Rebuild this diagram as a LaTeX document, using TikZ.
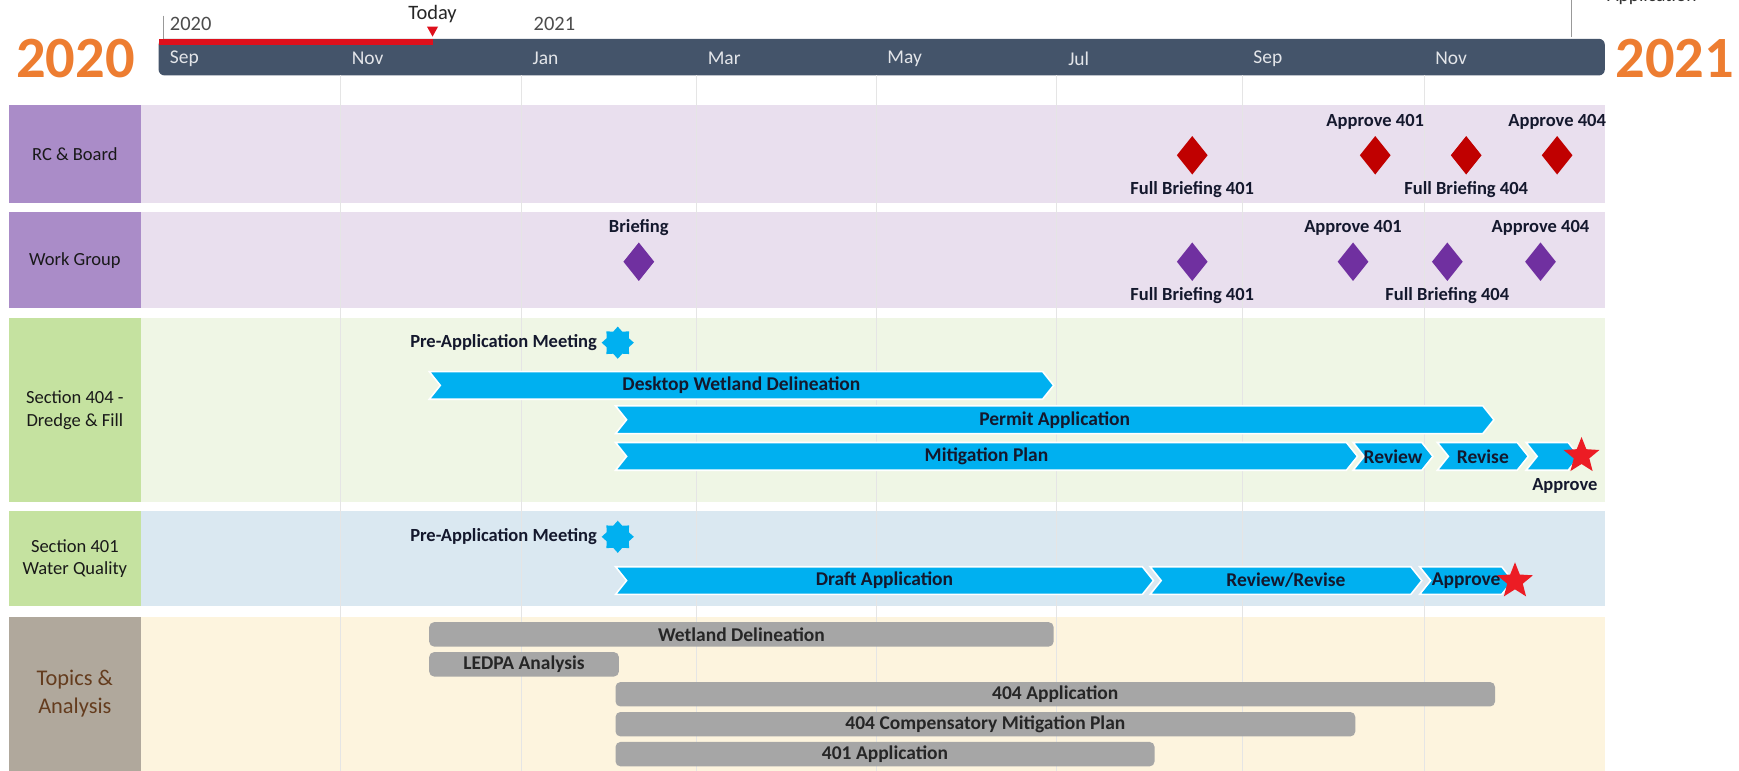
\documentclass[tikz,border=0pt]{standalone}
\usepackage{fontspec}
\setmainfont{Carlito}
\usetikzlibrary{positioning,shapes.geometric}

\definecolor{barslate}{RGB}{68,84,106}
\definecolor{yearorange}{RGB}{237,125,49}
\definecolor{todayred}{RGB}{222,16,28}
\definecolor{headpurple}{RGB}{170,140,200}
\definecolor{bandpurple}{RGB}{233,223,238}
\definecolor{headgreen}{RGB}{197,226,160}
\definecolor{bandgreen}{RGB}{239,246,229}
\definecolor{bandblue}{RGB}{218,232,241}
\definecolor{headtaupe}{RGB}{176,168,156}
\definecolor{bandcream}{RGB}{253,244,222}
\definecolor{topicbrown}{RGB}{100,60,30}
\definecolor{chevcyan}{RGB}{0,176,240}
\definecolor{taskgray}{RGB}{166,166,166}
\definecolor{rcred}{RGB}{192,0,0}
\definecolor{wgpurple}{RGB}{112,48,160}
\definecolor{starred}{RGB}{236,28,36}
\definecolor{labelink}{RGB}{20,24,45}

\tikzset{
    rowhead/.style={align=center, font=\fontsize{9.5}{11.5}\selectfont, text=black!90,
        minimum width=2.38cm, inner sep=0pt},
    monthlabel/.style={anchor=west, font=\fontsize{10}{12}\selectfont, text=white!85!barslate},
    yearbig/.style={font=\bfseries\fontsize{30}{30}\selectfont, text=yearorange},
    yearsmall/.style={anchor=west, font=\fontsize{10.5}{12}\selectfont, text=black!70},
    mslabel/.style={font=\bfseries\fontsize{9.5}{11}\selectfont, text=labelink, inner sep=1pt},
    barlabel/.style={font=\bfseries\fontsize{10}{12}\selectfont, text=labelink, inner sep=0pt},
    rcmile/.style={diamond, fill=rcred, minimum width=0.56cm, minimum height=0.7cm, inner sep=0pt},
    wgmile/.style={diamond, fill=wgpurple, minimum width=0.56cm, minimum height=0.7cm, inner sep=0pt},
    meetmark/.style={star, star points=8, star point ratio=1.35, fill=chevcyan,
        minimum size=0.58cm, inner sep=0pt},
    donemark/.style={star, star points=5, star point ratio=2.3, fill=starred,
        minimum size=0.68cm, inner sep=0pt},
    gridrule/.style={black!10, line width=0.5pt}
}

% chevron task: name, left, tip, top, text
\newcommand{\chevbar}[5]{%
    \fill[chevcyan, draw=white, line width=0.8pt] (#2,#4) -- (#3-10,#4) -- (#3,#4+12.5)
        -- (#3-10,#4+25) -- (#2,#4+25) -- (#2+10,#4+12.5) -- cycle;
    \node[barlabel] (#1) at ({(#2+#3)/2},#4+12.5) {#5};
}
% grey topic bar: name, left, right, top, text
\newcommand{\taskbar}[5]{%
    \fill[taskgray, rounded corners=2.5pt] (#2,#4) rectangle (#3,#4+22);
    \node[barlabel, text=black!85] (#1) at ({(#2+#3)/2},#4+11) {#5};
}

\begin{document}
\begin{tikzpicture}[x=0.02cm, y=-0.02cm]
\useasboundingbox (0,0) rectangle (1568,695);
\fill[white] (0,0) rectangle (1568,695);

% time axis
\node[yearbig] (yearstart) at (68,53) {2020};
\node[yearbig] (yearend) at (1510,53) {2021};
\fill[barslate, rounded corners=3pt] (143,35) rectangle (1447,68);
\fill[todayred] (143,35) rectangle (390,41);
\fill[todayred] (385,24) -- (395,24) -- (390,33) -- cycle;
\node[font=\fontsize{10.5}{12}\selectfont, text=black!85] (today) at (390,13) {Today};
\draw[black!40, line width=0.5pt] (147,14) -- (147,35);
\node[yearsmall] (y2020) at (147,22) {2020};
\node[yearsmall] (y2021) at (475,22) {2021};
\draw[black!40, line width=0.5pt] (1417,0) -- (1417,33);
\node[anchor=base west, font=\fontsize{10}{12}\selectfont, text=black!80] (appnote) at (1443,1.5) {Application};
\foreach \gx/\mon in {143/Sep,307/Nov,470/Jan,628/Mar,790/May,953/Jul,1120/Sep,1284/Nov}
    \node[monthlabel] at (\gx+4,53) {\mon};

% swim lanes
\fill[bandpurple] (127,95) rectangle (1447,183);
\fill[bandpurple] (127,191) rectangle (1447,278);
\fill[bandgreen] (127,287) rectangle (1447,453);
\fill[bandblue] (127,461) rectangle (1447,546);
\fill[bandcream] (127,556) rectangle (1447,695);
\foreach \gx in {307,470,628,790,953,1120,1284}
    \draw[gridrule] (\gx,68) -- (\gx,695);

\node[rowhead, fill=headpurple, minimum height=1.76cm] (rchead) at (67.5,139) {RC \& Board};
\node[rowhead, fill=headpurple, minimum height=1.74cm] (wghead) at (67.5,234.5) {Work Group};
\node[rowhead, fill=headgreen, minimum height=3.32cm] (s404head) at (67.5,370) {Section 404 -\\Dredge \& Fill};
\node[rowhead, fill=headgreen, minimum height=1.7cm] (s401head) at (67.5,503.5) {Section 401\\Water Quality};
\node[rowhead, fill=headtaupe, minimum height=2.78cm, text=topicbrown,
    font=\fontsize{11.5}{14}\selectfont] (topichead) at (67.5,625.5) {Topics \&\\Analysis};

% RC & Board
\node[rcmile] (rcbrief401) at (1075,140) {};
\node[mslabel, below=2pt of rcbrief401] (rcbrief401lbl) {Full Briefing 401};
\node[rcmile] (rcappr401) at (1240,140) {};
\node[mslabel, above=2pt of rcappr401] (rcappr401lbl) {Approve 401};
\node[rcmile] (rcbrief404) at (1322,140) {};
\node[mslabel, below=2pt of rcbrief404] (rcbrief404lbl) {Full Briefing 404};
\node[rcmile] (rcappr404) at (1404,140) {};
\node[mslabel, above=2pt of rcappr404] (rcappr404lbl) {Approve 404};

% Work Group
\node[wgmile] (wgbrief) at (576,236) {};
\node[mslabel, above=2pt of wgbrief] (wgbrieflbl) {Briefing};
\node[wgmile] (wgbrief401) at (1075,236) {};
\node[mslabel, below=2pt of wgbrief401] (wgbrief401lbl) {Full Briefing 401};
\node[wgmile] (wgappr401) at (1220,236) {};
\node[mslabel, above=2pt of wgappr401] (wgappr401lbl) {Approve 401};
\node[wgmile] (wgbrief404) at (1305,236) {};
\node[mslabel, below=2pt of wgbrief404] (wgbrief404lbl) {Full Briefing 404};
\node[wgmile] (wgappr404) at (1389,236) {};
\node[mslabel, above=2pt of wgappr404] (wgappr404lbl) {Approve 404};

% Section 404
\node[meetmark] (pam404) at (557,309) {};
\node[mslabel, left=1pt of pam404] (pam404lbl) {Pre-Application Meeting};
\chevbar{desktop}{387}{950}{335}{Desktop Wetland Delineation}
\chevbar{permit}{555}{1347}{366}{Permit Application}
\chevbar{mitplan}{555}{1224}{399}{Mitigation Plan}
\chevbar{review}{1220}{1292}{399}{Review}
\chevbar{revise}{1296}{1378}{399}{Revise}
\chevbar{approve404}{1376}{1424}{399}{}
\node[donemark] (done404) at (1426,411) {};
\node[mslabel] (done404lbl) at (1411,438) {Approve};

% Section 401
\node[meetmark] (pam401) at (557,484) {};
\node[mslabel, left=1pt of pam401] (pam401lbl) {Pre-Application Meeting};
\chevbar{draft}{555}{1040}{511}{Draft Application}
\chevbar{revrev}{1037}{1282}{511}{Review/Revise}
\chevbar{approve401}{1280}{1364}{511}{Approve}
\node[donemark] (done401) at (1366,524) {};

% Topics & Analysis
\taskbar{wetland}{387}{950}{561}{Wetland Delineation}
\taskbar{ledpa}{387}{558}{588}{LEDPA Analysis}
\taskbar{app404}{555}{1348}{615}{404 Application}
\taskbar{compmit}{555}{1222}{642}{404 Compensatory Mitigation Plan}
\taskbar{app401}{555}{1041}{669}{401 Application}
\end{tikzpicture}
\end{document}
